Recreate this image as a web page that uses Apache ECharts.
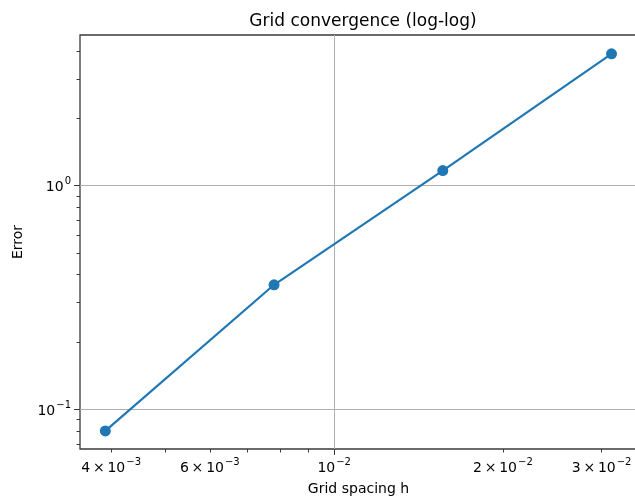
<!DOCTYPE html>
<html>
<head>
<meta charset="utf-8">
<style>
  html, body { margin: 0; padding: 0; background: #fff; }
  #chart { width: 635px; height: 498px; }
</style>
<script src="https://cdn.jsdelivr.net/npm/echarts@6/dist/echarts.min.js"></script>
</head>
<body>
<div id="chart"></div>
<script>
// data
var spacing = [0.00390625, 0.0078125, 0.015625, 0.03125];
var errors = [0.080, 0.360, 1.167, 3.88];

// tick positions
var xLabelTicks = [0.004, 0.006, 0.01, 0.02, 0.03];
var xMajorTicks = [0.01];
var xMinorTicks = [0.004, 0.005, 0.006, 0.007, 0.008, 0.009, 0.02, 0.03];
var yMajorTicks = [0.1, 1];
var yMinorTicks = [0.07, 0.08, 0.09, 0.2, 0.3, 0.4, 0.5, 0.6, 0.7, 0.8, 0.9, 2, 3, 4];

// "4 × 10^-3" style label, exponent as rich text
function logLabel(v) {
  var e = Math.floor(Math.log10(v) + 1e-9);
  var m = Math.round(v / Math.pow(10, e));
  var exp = '{s|' + String(e).replace('-', '\u2212') + '}';
  if (m === 1) return '{b|10}' + exp;
  return '{b|' + m + '\u2009\u00d7\u200910}' + exp;
}

var font = 'DejaVu Sans';
var dark = '#3a3a3a';
var blue = '#1f77b4';
var richStyle = {
  b: { fontFamily: font, fontSize: 14, color: '#000', lineHeight: 18, verticalAlign: 'bottom' },
  s: { fontFamily: font, fontSize: 10, color: '#000', lineHeight: 18, verticalAlign: 'top', padding: [0, 0, 0, 1] }
};

var chart = echarts.init(document.getElementById('chart'));
chart.setOption({
  animation: false,
  title: {
    text: 'Grid convergence (log-log)',
    left: 358,
    textAlign: 'center',
    top: 8,
    textStyle: { fontFamily: font, fontSize: 17, fontWeight: 'normal', color: '#000' }
  },
  grid: {
    left: 80, top: 35, right: -2, bottom: 49,
    outerBoundsMode: 'none',
    containLabel: false,
    show: true, borderColor: dark, borderWidth: 1.3, backgroundColor: '#fff'
  },
  xAxis: [{
    type: 'log',
    min: 0.00352,
    max: 0.0347,
    name: 'Grid spacing h',
    nameLocation: 'middle',
    nameGap: 33,
    nameTextStyle: { fontFamily: font, fontSize: 14, color: '#000' },
    axisLine: { show: false },
    axisTick: { show: true, customValues: xMajorTicks, length: 6, lineStyle: { color: dark } },
    axisLabel: {
      customValues: xLabelTicks, formatter: logLabel, margin: 8, rich: richStyle
    },
    splitLine: { show: true, lineStyle: { color: '#b0b0b0', width: 1 } },
    minorTick: { show: false }
  }, {
    type: 'log',
    position: 'bottom',
    min: 0.00352,
    max: 0.0347,
    axisLine: { show: false },
    axisTick: { show: true, customValues: xMinorTicks, length: 3.5, lineStyle: { color: dark } },
    axisLabel: { show: false },
    splitLine: { show: false }
  }],
  yAxis: [{
    type: 'log',
    min: 0.0664,
    max: 4.71,
    name: 'Error',
    nameLocation: 'middle',
    nameGap: 55,
    nameTextStyle: { fontFamily: font, fontSize: 14, color: '#000' },
    axisLine: { show: false },
    axisTick: { show: true, customValues: yMajorTicks, length: 6, lineStyle: { color: dark } },
    axisLabel: {
      customValues: yMajorTicks, formatter: logLabel, margin: 9, rich: richStyle
    },
    splitLine: { show: true, lineStyle: { color: '#b0b0b0', width: 1 } }
  }, {
    type: 'log',
    position: 'left',
    min: 0.0664,
    max: 4.71,
    axisLine: { show: false },
    axisTick: { show: true, customValues: yMinorTicks, length: 3.5, lineStyle: { color: dark } },
    axisLabel: { show: false },
    splitLine: { show: false }
  }],
  series: [{
    type: 'line',
    xAxisIndex: 0,
    yAxisIndex: 0,
    data: spacing.map(function (h, i) { return [h, errors[i]]; }),
    symbol: 'circle',
    symbolSize: 11,
    lineStyle: { color: blue, width: 2.2 },
    itemStyle: { color: blue }
  }]
});
</script>
</body>
</html>
